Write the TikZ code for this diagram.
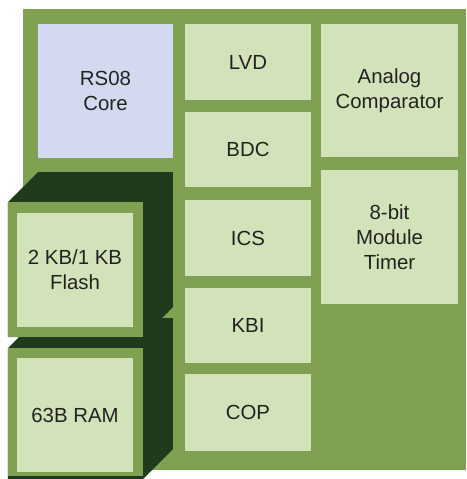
\documentclass[tikz,border=0pt]{standalone}
\usepackage{fontspec}
\setmainfont{Liberation Sans}
\usepackage{xcolor}
\usepackage{tikz}
\definecolor{boardgreen}{HTML}{80A152}
\definecolor{cellgreen}{HTML}{D3E3B9}
\definecolor{coreblue}{HTML}{D3DAF0}
\definecolor{shadegreen}{HTML}{1F3A1D}
\definecolor{labelgray}{HTML}{222222}
\tikzset{
  cell/.style={rectangle,fill=cellgreen,align=center,inner sep=0pt,
    font=\fontsize{10.2}{12.5}\selectfont,text=labelgray},
  smallcell/.style={cell,minimum width=63pt,minimum height=38pt},
  bigcell/.style={cell,minimum width=68.5pt,minimum height=67pt},
  memcell/.style={cell,minimum width=58pt,minimum height=57pt},
  extrude/.style={fill=shadegreen},
  memface/.style={fill=boardgreen}}

\begin{document}
\begin{tikzpicture}[x=0.5pt,y=-0.5pt]
  \useasboundingbox[fill=white] (0,0) rectangle (467,479);

  % board
  \fill[boardgreen] (23,9) rectangle (466,470);

  % memory blocks, drawn as raised slabs
  \fill[extrude] (8,348) -- (38,318) -- (173,318) -- (173,449)
    -- (143,479) -- (8,479) -- cycle;
  \fill[extrude] (8,202) -- (38,172) -- (173,172) -- (173,307)
    -- (143,337) -- (8,337) -- cycle;
  \fill[memface] (8,202) rectangle (143,337);
  \fill[memface] (8,348) rectangle (143,476);

  \node[memcell] (flash) at (75,270) {2 KB/1 KB\\Flash};
  \node[memcell] (ram) at (75,415) {63B RAM};

  % core
  \node[bigcell,fill=coreblue,minimum width=67.5pt] (core) at (105.5,91)
    {RS08\\Core};

  % middle column
  \node[smallcell] (lvd) at (248,62) {LVD};
  \node[smallcell,minimum height=37.5pt] (bdc) at (248,149.5) {BDC};
  \node[smallcell] (ics) at (248,238) {ICS};
  \node[smallcell,minimum height=37.5pt] (kbi) at (248,325.5) {KBI};
  \node[smallcell,minimum height=38.5pt] (cop) at (248,412.5) {COP};

  % right column
  \node[bigcell,minimum height=66.5pt] (acmp) at (389.5,90.5)
    {Analog\\Comparator};
  \node[bigcell] (mtim) at (389.5,237) {8-bit\\Module\\Timer};
\end{tikzpicture}
\end{document}
